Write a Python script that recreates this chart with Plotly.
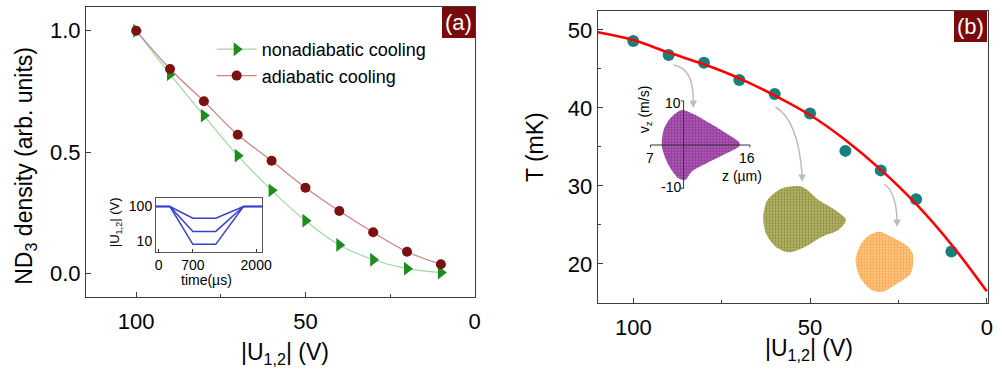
import plotly.graph_objects as go

W, H = 1002, 373
def px(x): return x / W
def py(y): return 1 - y / H

# ---------------- data ----------------
U_a = [100, 90, 80, 70, 60, 50, 40, 30, 20, 10]
dens_nonadiabatic = [1.0, 0.821, 0.650, 0.485, 0.342, 0.217, 0.117, 0.056, 0.019, 0.003]
dens_adiabatic = [1.0, 0.842, 0.709, 0.571, 0.464, 0.353, 0.257, 0.169, 0.089, 0.037]

inset_time = [-60, 230, 700, 1170, 1740, 2150]
inset_U_high = [100, 100, 46, 46, 100, 100]
inset_U_mid = [100, 100, 19, 19, 100, 100]
inset_U_low = [100, 100, 8, 8, 100, 100]

U_b = [100, 90, 80, 70, 60, 50, 40, 30, 20, 10]
T_meas = [48.6, 46.8, 45.8, 43.6, 41.8, 39.3, 34.5, 32.0, 28.3, 21.6]
U_fit = [110, 100, 90, 80, 70, 60, 50, 40, 30, 20, 10, 0]
T_fit = [49.7, 48.7, 47.1, 45.6, 43.8, 41.6, 39.1, 35.9, 32.1, 27.7, 22.5, 16.5]

# phase-space cloud outlines (z in um, vz in m/s)
cloud1_z = [9.93, 11.01, 12.56, 14.09, 15.33, 15.33, 13.79, 12.24, 10.85, 10.24, 9.62, 8.69, 8.07, 8.23, 8.85, 9.93]
cloud1_vz = [8.33, 7.38, 5.17, 2.79, 0.55, -0.24, -2.38, -4.36, -6.36, -8.33, -7.93, -4.76, -0.40, 3.57, 6.36, 8.33]
cloud2_z = [9.59, 11.44, 12.99, 14.53, 15.55, 14.84, 13.30, 11.75, 10.21, 8.97, 8.05, 7.81, 8.20, 9.59]
cloud2_vz = [7.55, 7.93, 4.76, 2.38, 0.0, -2.38, -3.98, -6.36, -7.69, -6.36, -3.17, 0.79, 4.76, 7.55]
cloud3_z = [9.81, 10.89, 12.28, 12.90, 12.74, 11.51, 10.12, 9.04, 7.95, 7.56, 8.11, 8.88, 9.81]
cloud3_vz = [7.21, 6.02, 4.05, 2.07, -2.69, -5.07, -7.07, -6.67, -3.50, 0.48, 4.45, 6.43, 7.21]

# ---------------- styles ----------------
FONT = "Arial, Liberation Sans, sans-serif"
FRAME = "#3c3c3c"
GREEN = "#1e8c1e"
GREEN_L = "#a3d6a3"
MAROON = "#7a1212"
MAROON_L = "#c98484"
TEAL = "#16807f"
BLUE = "#3a3fd0"
BOX = "#7a0a0a"

fig = go.Figure()

fig.add_trace(go.Scatter(x=U_a, y=dens_nonadiabatic, mode="lines+markers", name="nonadiabatic cooling",
                         line=dict(color=GREEN_L, width=1.2, shape="spline"),
                         marker=dict(symbol="triangle-right", size=12, color=GREEN),
                         xaxis="x", yaxis="y"))
fig.add_trace(go.Scatter(x=U_a, y=dens_adiabatic, mode="lines+markers", name="adiabatic cooling",
                         line=dict(color=MAROON_L, width=1.2, shape="spline"),
                         marker=dict(symbol="circle", size=10, color=MAROON),
                         xaxis="x", yaxis="y"))
for yy in (inset_U_high, inset_U_mid, inset_U_low):
    fig.add_trace(go.Scatter(x=inset_time, y=yy, mode="lines", showlegend=False,
                             line=dict(color=BLUE, width=1.5), xaxis="x3", yaxis="y3"))

fig.add_trace(go.Scatter(x=U_b, y=T_meas, mode="markers", showlegend=False,
                         marker=dict(size=12, color=TEAL), xaxis="x2", yaxis="y2"))
fig.add_trace(go.Scatter(x=U_fit, y=T_fit, mode="lines", showlegend=False,
                         line=dict(color="#ff0000", width=2.6, shape="spline"), xaxis="x2", yaxis="y2"))

clouds = [(cloud1_z, cloud1_vz, "#6e0076", "rgba(140,30,150,0.7)", "x4", "y4"),
          (cloud2_z, cloud2_vz, "#666600", "rgba(135,135,20,0.6)", "x5", "y5"),
          (cloud3_z, cloud3_vz, "#f08000", "rgba(255,150,30,0.5)", "x6", "y6")]
for cz, cv, fg, bg, xa, ya in clouds:
    fig.add_trace(go.Scatter(x=cz, y=cv, mode="lines", fill="toself", showlegend=False,
                             line=dict(width=0, color=fg, shape="spline", smoothing=0.8),
                             fillcolor=bg, hoverinfo="skip",
                             fillpattern=dict(shape=".", fgcolor=fg, bgcolor=bg, size=3, solidity=0.45),
                             xaxis=xa, yaxis=ya))

axis_common = dict(showline=True, linecolor=FRAME, linewidth=1.3, mirror=True, showgrid=False,
                   zeroline=False, ticks="inside", ticklen=5, tickwidth=1.2, tickcolor=FRAME,
                   tickfont=dict(size=22, color="black", family=FONT))

hidden = dict(visible=False, showgrid=False, zeroline=False)

fig.update_layout(
    width=W, height=H, margin=dict(l=0, r=0, t=0, b=0),
    paper_bgcolor="white", plot_bgcolor="rgba(0,0,0,0)",
    font=dict(family=FONT, color="black"),
    xaxis=dict(domain=[px(86), px(479)], range=[114.8, 0], tickvals=[100, 50, 0], anchor="y",
               ticklabelstandoff=4,
               minor=dict(dtick=25, tick0=0, ticks="inside", ticklen=3, tickcolor=FRAME),
               **axis_common),
    yaxis=dict(domain=[py(297), py(6.5)], range=[-0.0977, 1.0998], tickvals=[0, 0.5, 1.0],
               ticktext=["0.0", "0.5", "1.0"], anchor="x", **axis_common),
    xaxis2=dict(domain=[px(603.3), px(998)], range=[110.07, -0.36], tickvals=[100, 50, 0], anchor="y2",
                ticklabelstandoff=4,
                minor=dict(dtick=25, tick0=0, ticks="inside", ticklen=3, tickcolor=FRAME),
                **axis_common),
    yaxis2=dict(domain=[py(303.3), py(10.7)], range=[14.96, 52.47], tickvals=[20, 30, 40, 50], anchor="x2",
                minor=dict(dtick=5, tick0=0, ticks="inside", ticklen=3, tickcolor=FRAME),
                **axis_common),
    xaxis3=dict(domain=[px(156.7), px(264)], range=[-57, 2122], tickvals=[0, 700, 2000], anchor="y3",
                showline=True, linecolor="#555", linewidth=1, mirror=True, showgrid=False, zeroline=False,
                ticks="inside", ticklen=3, tickcolor="#333",
                tickfont=dict(size=14, color="black", family=FONT)),
    yaxis3=dict(domain=[py(251.7), py(197.7)], type="log", range=[0.69, 2.255], tickvals=[10, 100],
                ticktext=["10", "100"], anchor="x3",
                showline=True, linecolor="#555", linewidth=1, mirror=True, showgrid=False, zeroline=False,
                ticks="", tickfont=dict(size=14, color="black", family=FONT)),
    xaxis4=dict(domain=[px(645.9), px(764.7)], range=[6, 17], anchor="y4", **hidden),
    yaxis4=dict(domain=[py(191.2), py(98.8)], range=[-11, 11], anchor="x4", **hidden),
    xaxis5=dict(domain=[px(751.2), px(870)], range=[6, 17], anchor="y5", **hidden),
    yaxis5=dict(domain=[py(266.2), py(173.8)], range=[-11, 11], anchor="x5", **hidden),
    xaxis6=dict(domain=[px(847.2), px(966)], range=[6, 17], anchor="y6", **hidden),
    yaxis6=dict(domain=[py(308.2), py(215.8)], range=[-11, 11], anchor="x6", **hidden),
    legend=dict(x=px(213), y=py(31), xanchor="left", yanchor="top", bgcolor="rgba(0,0,0,0)",
                font=dict(size=18, color="black", family=FONT), itemwidth=40, tracegroupgap=0),
)

C = dict(xanchor="center", yanchor="middle", showarrow=False, xref="paper", yref="paper")
ann = []
# axis titles
ann.append(dict(text="ND<sub>3</sub> density (arb. units)", x=px(24), y=py(166), textangle=-90,
                font=dict(size=23), **C))
ann.append(dict(text="|U<sub>1,2</sub>| (V)", x=px(286.7), y=py(353), font=dict(size=23), **C))
ann.append(dict(text="T (mK)", x=px(540), y=py(147), textangle=-90, font=dict(size=23), **C))
ann.append(dict(text="|U<sub>1,2</sub>| (V)", x=px(816.7), y=py(349), font=dict(size=23), **C))
# inset (a) titles
ann.append(dict(text="time(\u00b5s)", x=px(208), y=py(280), font=dict(size=14), **C))
ann.append(dict(text="|U<sub>1,2</sub>| (V)", x=px(116.5), y=py(222), textangle=-90,
                font=dict(size=13), **C))
# panel labels
for lab, xr, yt in [("(a)", 479, 6.5), ("(b)", 997, 10.7)]:
    ann.append(dict(text=lab, x=px(xr), y=py(yt), xref="paper", yref="paper", xanchor="right",
                    yanchor="top", showarrow=False, bgcolor=BOX, width=33, height=31,
                    borderpad=0, borderwidth=0, font=dict(size=22, color="white")))
# phase-space inset labels
small = dict(size=14, color="black")
ann.append(dict(text="10", x=10.1, y=10, xref="x4", yref="y4", xanchor="right", yanchor="middle",
                xshift=-1, showarrow=False, font=small))
ann.append(dict(text="-10", x=10.1, y=-10, xref="x4", yref="y4", xanchor="right", yanchor="middle",
                xshift=-1, showarrow=False, font=small))
ann.append(dict(text="7", x=7, y=0, xref="x4", yref="y4", xanchor="center", yanchor="top", yshift=-3,
                showarrow=False, font=small))
ann.append(dict(text="16", x=16, y=0, xref="x4", yref="y4", xanchor="center", yanchor="top", yshift=-3,
                showarrow=False, font=small))
ann.append(dict(text="z (\u00b5m)", x=px(749), y=py(176), font=small, **C))
ann.append(dict(text="v<sub>z</sub> (m/s)", x=px(651.5), y=py(109), textangle=-90, font=small, **C))
# arrow heads
for tx, ty in [(700, 108), (810, 182), (906, 227)]:
    ann.append(dict(text="", x=px(tx), y=py(ty), xref="paper", yref="paper", showarrow=True,
                    ax=0, ay=-9, arrowhead=2, arrowsize=1, arrowwidth=1.5, arrowcolor="#bdbdbd"))
fig.update_layout(annotations=ann)

shapes = []
# curved arrows
for p0, c, p1 in [((680, 65), (700, 68), (700, 100)),
                  ((783, 107), (806, 120), (810, 175)),
                  ((893, 184), (905, 192), (906, 220))]:
    path = f"M {px(p0[0])},{py(p0[1])} Q {px(c[0])},{py(c[1])} {px(p1[0])},{py(p1[1])}"
    shapes.append(dict(type="path", path=path, xref="paper", yref="paper",
                       line=dict(color="#bdbdbd", width=1.5)))
# phase-space cross axes
ax_line = dict(color="#333", width=1)
shapes.append(dict(type="line", xref="x4", yref="y4", x0=7, x1=16.3, y0=0, y1=0, line=ax_line))
shapes.append(dict(type="line", xref="x4", yref="y4", x0=10.1, x1=10.1, y0=10.5, y1=-10.3, line=ax_line))
for zx in (7, 16.3):
    shapes.append(dict(type="line", xref="x4", yref="y4", x0=zx, x1=zx, y0=0, y1=-0.6, line=ax_line))
for vy in (10.5, -10.3):
    shapes.append(dict(type="line", xref="x4", yref="y4", x0=10.1, x1=9.85, y0=vy, y1=vy, line=ax_line))
fig.update_layout(shapes=shapes)

fig.write_html("out.html", config={"displayModeBar": False},
               post_script="document.body.style.margin='0';document.body.style.overflow='hidden';")
